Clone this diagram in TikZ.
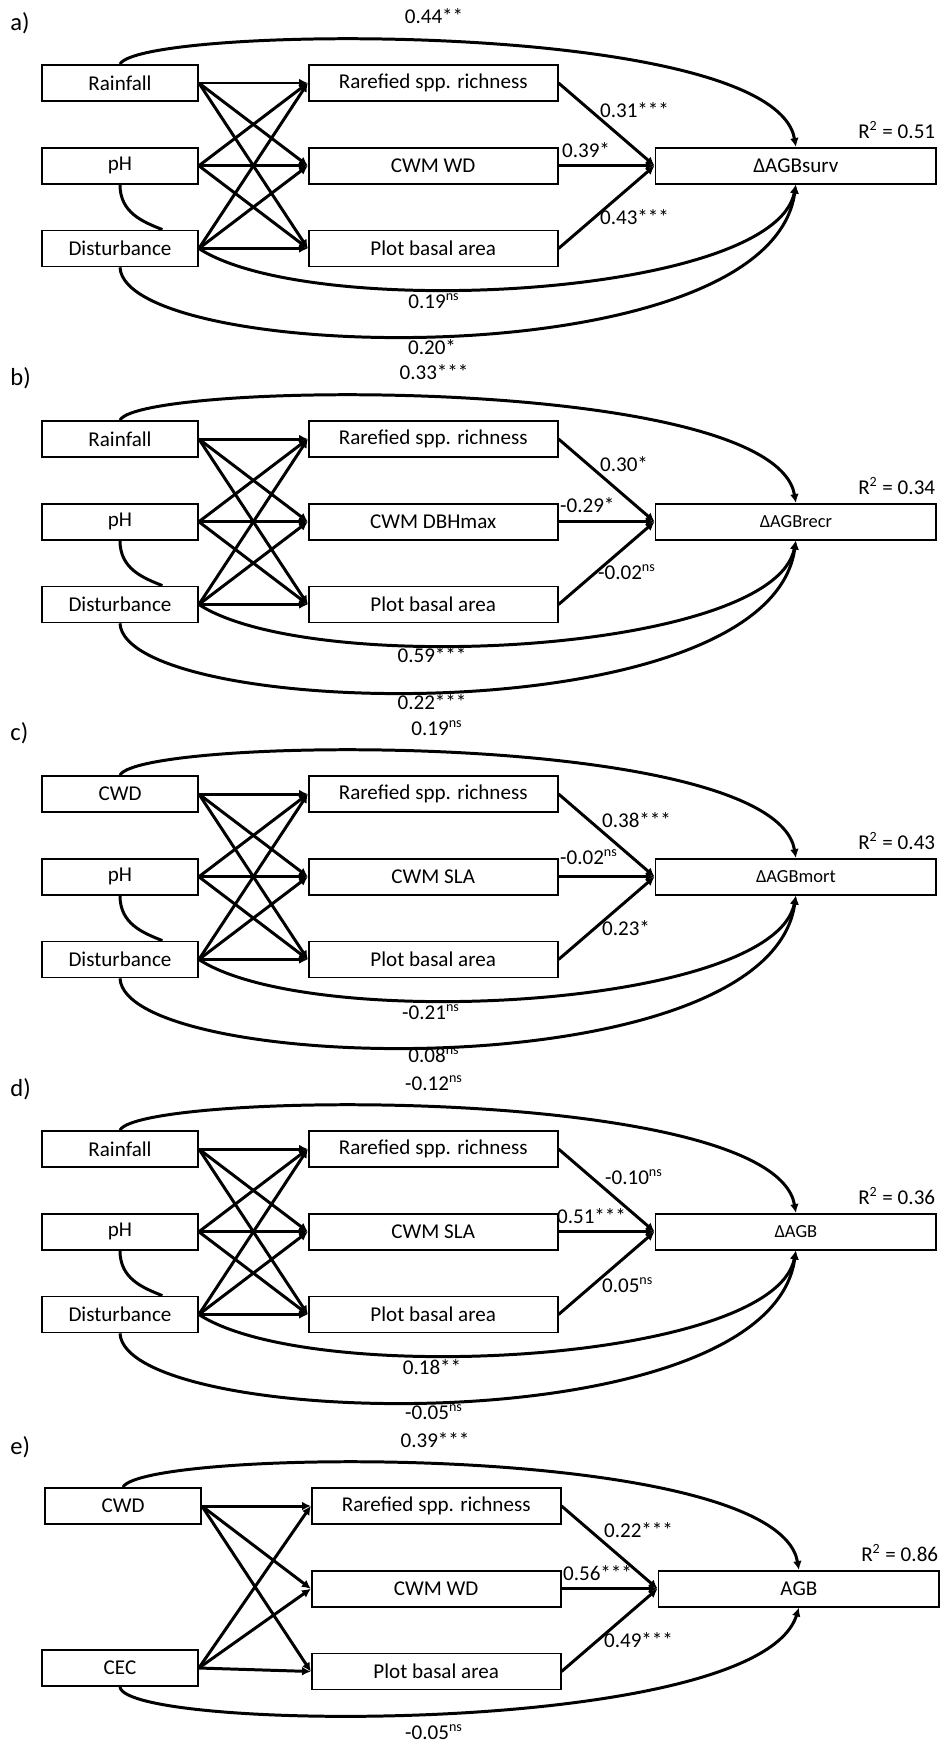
\documentclass[tikz,border=0pt]{standalone}
\usepackage{fontspec}
\setmainfont{Carlito}
\usetikzlibrary{positioning}
\usetikzlibrary{arrows.meta}

\begin{document}
\begin{tikzpicture}[x=0.02cm,y=-0.02cm,font=\fontsize{12}{14}\selectfont]
\tikzset{driver/.style={rectangle,minimum width=3.12cm,minimum height=0.72cm,line width=1pt,draw}}
\tikzset{mediator/.style={rectangle,minimum width=4.98cm,minimum height=0.72cm,line width=1pt,draw}}
\tikzset{response/.style={rectangle,minimum width=5.62cm,minimum height=0.72cm,line width=1pt,draw}}
\tikzset{small/.style={font=\fontsize{10.5}{12}\selectfont}}
\tikzset{link/.style={line width=1.7pt,-{Latex[length=5pt,width=5pt]}}}
\tikzset{corr/.style={line width=1.7pt}}
\tikzset{coef/.style={inner sep=1pt}}
\tikzset{rsq/.style={inner sep=1pt,anchor=south east,yshift=0.12cm}}
\tikzset{panel/.style={anchor=west,inner sep=0pt,font=\fontsize{14}{16}\selectfont}}
\useasboundingbox (0,0) rectangle (940,1742);

% a) survivors
\node[panel] (laba) at (10,23) {a)};
\node[driver] (rain1) at (120,83) {Rainfall};
\node[driver, below=0.9cm of rain1] (ph1) {pH};
\node[driver, below=0.9cm of ph1] (dist1) {Disturbance};
\node[mediator, right=2.18cm of rain1] (rich1) {Rarefied spp. richness};
\node[mediator, below=0.9cm of rich1] (cwm1) {CWM WD};
\node[mediator, below=0.9cm of cwm1] (pba1) {Plot basal area};
\node[response, right=1.92cm of cwm1] (agb1) {ΔAGBsurv};
\foreach \s in {rain1,ph1,dist1}
  \foreach \t in {rich1,cwm1,pba1}
    \draw[link] (\s.east) -- (\t.west);
\foreach \t in {rich1,cwm1,pba1}
  \draw[link] (\t.east) -- (agb1.west);
\draw[link] (rain1.north) .. controls +(20,-39) and +(-22,-129) .. (agb1.north);
\draw[link] (dist1.east) .. controls +(112,73) and +(-22,113) .. (agb1.south);
\draw[link] (dist1.south) .. controls +(5,96) and +(-27,196) .. (agb1.south);
\draw[corr] (ph1.south) .. controls +(0,28) and +(-20,-8) .. (dist1.24);
\node[coef] (ctop1) at (434,16) {0.44**};
\node[coef, anchor=west] (crich1) at (598,110) {0.31***};
\node[coef, anchor=west] (ccwm1) at (560,150) {0.39*};
\node[coef, anchor=west] (cpba1) at (598,217) {0.43***};
\node[coef] (cdist1) at (434,301) {0.19\textsuperscript{ns}};
\node[coef] (cdeep1) at (432,347) {0.20*};
\node[rsq] (rsq1) at (agb1.north east) {R\textsuperscript{2} = 0.51};

% b) recruits
\node[panel] (labb) at (10,378) {b)};
\node[driver] (rain2) at (120,439) {Rainfall};
\node[driver, below=0.9cm of rain2] (ph2) {pH};
\node[driver, below=0.9cm of ph2] (dist2) {Disturbance};
\node[mediator, right=2.18cm of rain2] (rich2) {Rarefied spp. richness};
\node[mediator, below=0.9cm of rich2] (cwm2) {CWM DBHmax};
\node[mediator, below=0.9cm of cwm2] (pba2) {Plot basal area};
\node[response, small, right=1.92cm of cwm2] (agb2) {ΔAGBrecr};
\foreach \s in {rain2,ph2,dist2}
  \foreach \t in {rich2,cwm2,pba2}
    \draw[link] (\s.east) -- (\t.west);
\foreach \t in {rich2,cwm2,pba2}
  \draw[link] (\t.east) -- (agb2.west);
\draw[link] (rain2.north) .. controls +(20,-39) and +(-22,-129) .. (agb2.north);
\draw[link] (dist2.east) .. controls +(112,73) and +(-22,113) .. (agb2.south);
\draw[link] (dist2.south) .. controls +(5,96) and +(-27,196) .. (agb2.south);
\draw[corr] (ph2.south) .. controls +(0,28) and +(-20,-8) .. (dist2.24);
\node[coef] (ctop2) at (434,372) {0.33***};
\node[coef, anchor=west] (crich2) at (598,464) {0.30*};
\node[coef, anchor=west] (ccwm2) at (558,505) {-0.29*};
\node[coef, anchor=west] (cpba2) at (596,572) {-0.02\textsuperscript{ns}};
\node[coef] (cdist2) at (432,655) {0.59***};
\node[coef] (cdeep2) at (432,702) {0.22***};
\node[rsq] (rsq2) at (agb2.north east) {R\textsuperscript{2} = 0.34};

% c) mortality
\node[panel] (labc) at (10,733) {c)};
\node[driver] (cwd3) at (120,794) {CWD};
\node[driver, below=0.9cm of cwd3] (ph3) {pH};
\node[driver, below=0.9cm of ph3] (dist3) {Disturbance};
\node[mediator, right=2.18cm of cwd3] (rich3) {Rarefied spp. richness};
\node[mediator, below=0.9cm of rich3] (cwm3) {CWM SLA};
\node[mediator, below=0.9cm of cwm3] (pba3) {Plot basal area};
\node[response, small, right=1.92cm of cwm3] (agb3) {ΔAGBmort};
\foreach \s in {cwd3,ph3,dist3}
  \foreach \t in {rich3,cwm3,pba3}
    \draw[link] (\s.east) -- (\t.west);
\foreach \t in {rich3,cwm3,pba3}
  \draw[link] (\t.east) -- (agb3.west);
\draw[link] (cwd3.north) .. controls +(20,-39) and +(-22,-129) .. (agb3.north);
\draw[link] (dist3.east) .. controls +(112,73) and +(-22,113) .. (agb3.south);
\draw[link] (dist3.south) .. controls +(5,96) and +(-27,196) .. (agb3.south);
\draw[corr] (ph3.south) .. controls +(0,28) and +(-20,-8) .. (dist3.24);
\node[coef] (ctop3) at (437,728) {0.19\textsuperscript{ns}};
\node[coef, anchor=west] (crich3) at (600,820) {0.38***};
\node[coef, anchor=west] (ccwm3) at (558,857) {-0.02\textsuperscript{ns}};
\node[coef, anchor=west] (cpba3) at (600,928) {0.23*};
\node[coef] (cdist3) at (431,1012) {-0.21\textsuperscript{ns}};
\node[coef] (cdeep3) at (434,1055) {0.08\textsuperscript{ns}};
\node[rsq] (rsq3) at (agb3.north east) {R\textsuperscript{2} = 0.43};

% d) net change
\node[panel] (labd) at (10,1089) {d)};
\node[driver] (rain4) at (120,1149) {Rainfall};
\node[driver, below=0.9cm of rain4] (ph4) {pH};
\node[driver, below=0.9cm of ph4] (dist4) {Disturbance};
\node[mediator, right=2.18cm of rain4] (rich4) {Rarefied spp. richness};
\node[mediator, below=0.9cm of rich4] (cwm4) {CWM SLA};
\node[mediator, below=0.9cm of cwm4] (pba4) {Plot basal area};
\node[response, small, right=1.92cm of cwm4] (agb4) {ΔAGB};
\foreach \s in {rain4,ph4,dist4}
  \foreach \t in {rich4,cwm4,pba4}
    \draw[link] (\s.east) -- (\t.west);
\foreach \t in {rich4,cwm4,pba4}
  \draw[link] (\t.east) -- (agb4.west);
\draw[link] (rain4.north) .. controls +(20,-39) and +(-22,-129) .. (agb4.north);
\draw[link] (dist4.east) .. controls +(112,73) and +(-22,113) .. (agb4.south);
\draw[link] (dist4.south) .. controls +(5,96) and +(-27,196) .. (agb4.south);
\draw[corr] (ph4.south) .. controls +(0,28) and +(-20,-8) .. (dist4.24);
\node[coef] (ctop4) at (434,1083) {-0.12\textsuperscript{ns}};
\node[coef, anchor=west] (crich4) at (603,1177) {-0.10\textsuperscript{ns}};
\node[coef, anchor=west] (ccwm4) at (555,1216) {0.51***};
\node[coef, anchor=west] (cpba4) at (600,1285) {0.05\textsuperscript{ns}};
\node[coef] (cdist4) at (432,1367) {0.18**};
\node[coef] (cdeep4) at (434,1412) {-0.05\textsuperscript{ns}};
\node[rsq] (rsq4) at (agb4.north east) {R\textsuperscript{2} = 0.36};

% e) standing biomass
\node[panel] (labe) at (10,1447) {e)};
\node[driver] (cwd5) at (123,1506) {CWD};
\node[driver] (cec5) at (120,1668) {CEC};
\node[mediator, right=2.18cm of cwd5] (rich5) {Rarefied spp. richness};
\node[mediator, below=0.9cm of rich5] (cwm5) {CWM WD};
\node[mediator, below=0.9cm of cwm5] (pba5) {Plot basal area};
\node[response, right=1.92cm of cwm5] (agb5) {AGB};
\foreach \s in {cwd5,cec5}
  \foreach \t in {rich5,cwm5,pba5}
    \draw[link] (\s.east) -- (\t.west);
\foreach \t in {rich5,cwm5,pba5}
  \draw[link] (\t.east) -- (agb5.west);
\draw[link] (cwd5.north) .. controls +(20,-39) and +(-22,-129) .. (agb5.north);
\draw[link] (cec5.south) .. controls +(5,45) and +(-40,130) .. (agb5.south);
\node[coef] (ctop5) at (435,1440) {0.39***};
\node[coef, anchor=west] (crich5) at (602,1530) {0.22***};
\node[coef, anchor=west] (ccwm5) at (561,1573) {0.56***};
\node[coef, anchor=west] (cpba5) at (602,1640) {0.49***};
\node[coef] (cdeep5) at (434,1732) {-0.05\textsuperscript{ns}};
\node[rsq] (rsq5) at (agb5.north east) {R\textsuperscript{2} = 0.86};
\end{tikzpicture}
\end{document}
